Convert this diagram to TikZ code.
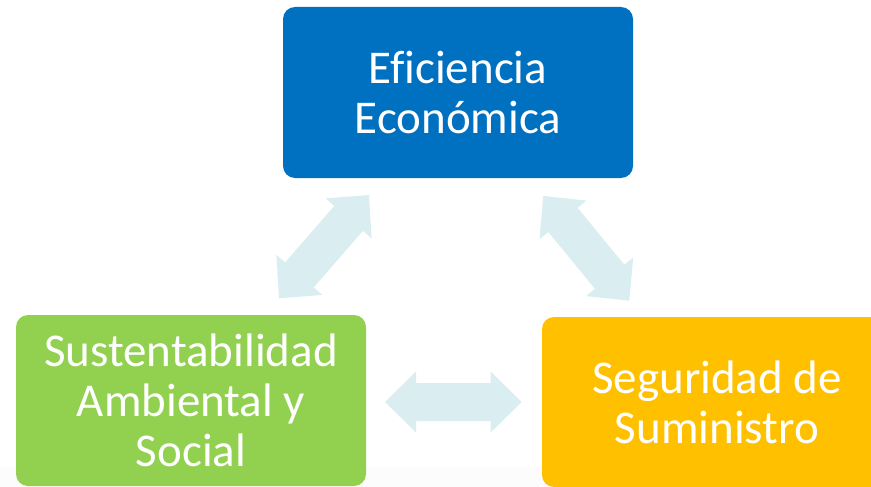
\documentclass[tikz,border=0pt]{standalone}
\usepackage{fontspec}
\setmainfont[Ligatures=NoCommon]{Carlito}
\usetikzlibrary{calc}
\definecolor{ecoblue}{HTML}{0070C0}
\definecolor{sgreen}{HTML}{92D050}
\definecolor{sorange}{HTML}{FFC000}
\definecolor{arrowfill}{HTML}{DAEDF0}
\definecolor{band}{HTML}{FCFCFC}
\tikzset{
  box/.style={rounded corners=12pt, inner sep=0pt, minimum width=350pt,
    minimum height=171pt, text=white, align=center,
    font=\fontsize{47}{50}\selectfont},
  blockarrow/.style={fill=arrowfill, draw=none}
}
\newcommand{\dblarrow}[2]{%
  \fill[blockarrow] (#1)
   -- ($(#1)!31pt!(#2)!30.5pt!90:(#2)$)
   -- ($(#1)!31pt!(#2)!19pt!90:(#2)$)
   -- ($(#2)!31pt!(#1)!19pt!-90:(#1)$)
   -- ($(#2)!31pt!(#1)!30.5pt!-90:(#1)$)
   -- (#2)
   -- ($(#2)!31pt!(#1)!30.5pt!90:(#1)$)
   -- ($(#2)!31pt!(#1)!19pt!90:(#1)$)
   -- ($(#1)!31pt!(#2)!19pt!-90:(#2)$)
   -- ($(#1)!31pt!(#2)!30.5pt!-90:(#2)$)
   -- cycle;}
\begin{document}
\begin{tikzpicture}[x=1pt,y=-1pt]
  \useasboundingbox (0,0) rectangle (871,487);
  \clip (0,0) rectangle (871,487);
  \fill[band] (0,466) rectangle (871,487);
  % boxes
  \node[box, fill=ecoblue] (eco) at (458,92.5) {Ef\kern0pt iciencia\\Económica};
  \node[box, fill=sgreen] (sus) at (191,400.5) {Sustentabilidad\\Ambiental y\\Social};
  \node[box, fill=sorange, minimum height=170pt] (seg) at (717,402) {Seguridad de\\Suministro};
  % arrow ends
  \coordinate (l1) at (279,298.3);
  \coordinate (l2) at (369,195);
  \coordinate (r1) at (543.3,196);
  \coordinate (r2) at (629.3,300.7);
  \coordinate (h1) at (385,402);
  \coordinate (h2) at (521.7,402);
  \dblarrow{l1}{l2}
  \dblarrow{r1}{r2}
  \dblarrow{h1}{h2}
\end{tikzpicture}
\end{document}
